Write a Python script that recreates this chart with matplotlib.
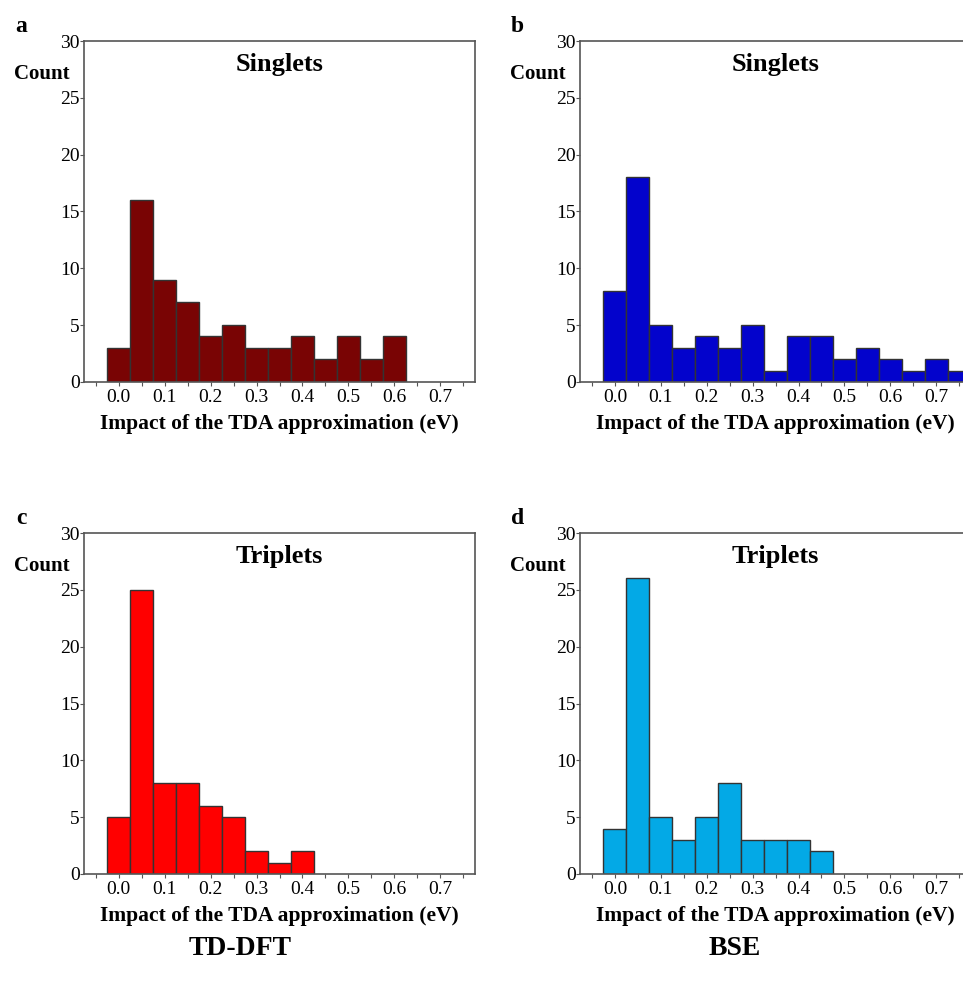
import numpy as np
from matplotlib import pyplot as plt

plt.rcParams['font.family'] = ['Liberation Serif', 'DejaVu Serif']

# bin centres (eV), width 0.05
bin_width = 0.05
tddft_singlets = [3, 16, 9, 7, 4, 5, 3, 3, 4, 2, 4, 2, 4]
bse_singlets = [8, 18, 5, 3, 4, 3, 5, 1, 4, 4, 2, 3, 2, 1, 2, 1]
tddft_triplets = [5, 25, 8, 8, 6, 5, 2, 1, 2]
bse_triplets = [4, 26, 5, 3, 5, 8, 3, 3, 3, 2]

panels = [
    ('a', 'Singlets', tddft_singlets, '#790404', [0.0872, 0.6134, 0.4061, 0.3451]),
    ('b', 'Singlets', bse_singlets, '#0303CC', [0.6023, 0.6134, 0.4061, 0.3451]),
    ('c', 'Triplets', tddft_triplets, '#FF0000', [0.0872, 0.1154, 0.4061, 0.3451]),
    ('d', 'Triplets', bse_triplets, '#03A9E6', [0.6023, 0.1154, 0.4061, 0.3451]),
]

fig = plt.figure(figsize=(9.63, 9.88), dpi=100)

for letter, title, counts, color, pos in panels:
    ax = fig.add_axes(pos)
    centres = np.arange(len(counts)) * bin_width
    ax.bar(centres, counts, width=bin_width, color=color,
           edgecolor='#333333', linewidth=1.0)
    ax.set_xlim(-0.076, 0.776)
    ax.set_ylim(0, 30)
    ax.set_xticks(np.arange(0, 0.71, 0.1))
    ax.set_xticklabels(['%.1f' % v for v in np.arange(0, 0.71, 0.1)])
    ax.set_xticks(np.arange(-0.05, 0.76, 0.1), minor=True)
    ax.set_yticks(range(0, 31, 5))
    ax.tick_params(axis='both', which='both', direction='out', length=3,
                   width=0.8, colors='#555555', labelcolor='black',
                   labelsize=14, pad=0)
    ax.tick_params(axis='x', which='major', pad=2)
    for s in ax.spines.values():
        s.set_color('#555555')
        s.set_linewidth(1.2)
    ax.set_xlabel('Impact of the TDA approximation (eV)', fontsize=15.5,
                  fontweight='bold', labelpad=6)
    ax.text(0.5, 0.93, title, transform=ax.transAxes, ha='center', va='center',
            fontsize=19, fontweight='bold')
    x0 = pos[0]
    top = pos[1] + pos[3]
    fig.text(x0 - 0.044, top - 0.033, 'Count', ha='center', va='center',
             fontsize=15, fontweight='bold')
    fig.text(x0 - 0.065, top + 0.015, letter, ha='center', va='center',
             fontsize=17, fontweight='bold')

fig.text(240 / 963, 1 - 948 / 988, 'TD-DFT', ha='center', va='center',
         fontsize=20, fontweight='bold')
fig.text(735 / 963, 1 - 948 / 988, 'BSE', ha='center', va='center',
         fontsize=20, fontweight='bold')

plt.savefig('out.png', dpi=100)
